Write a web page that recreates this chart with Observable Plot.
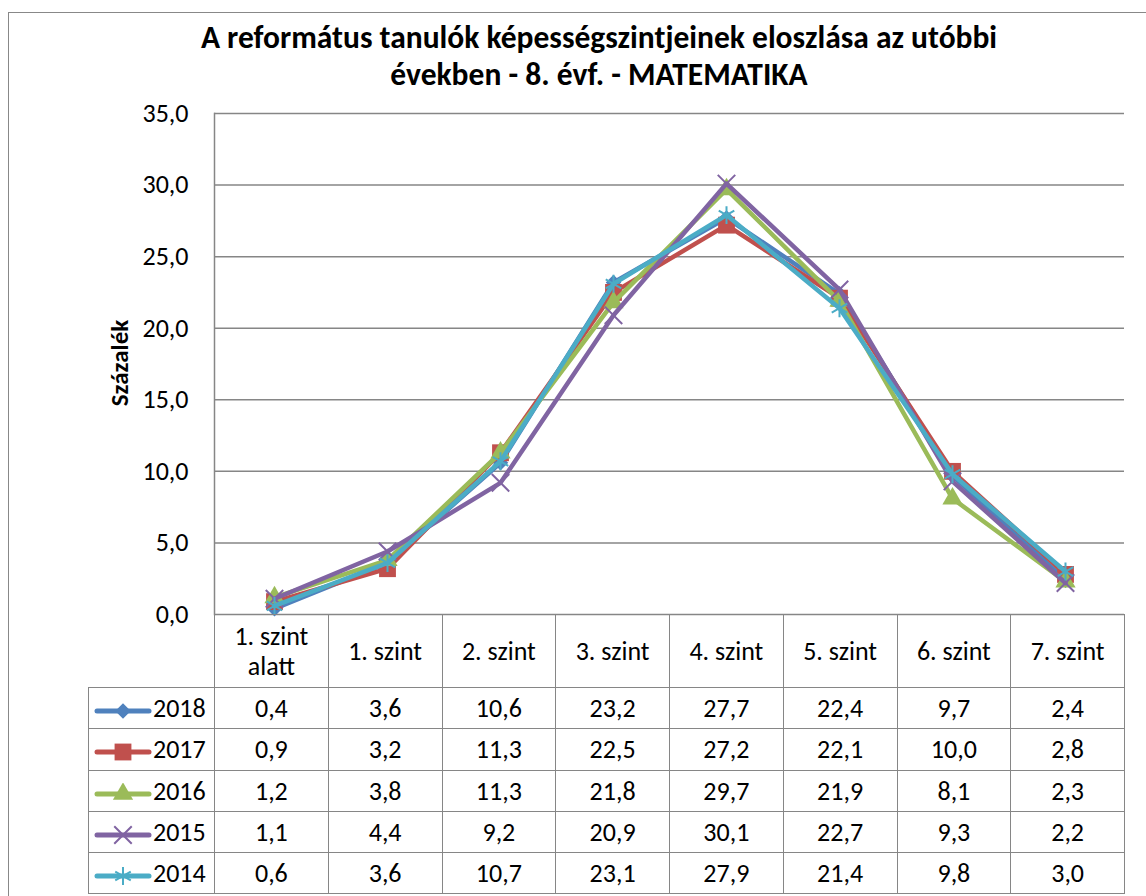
<!DOCTYPE html>
<html><head><meta charset="utf-8">
<script src="https://cdn.jsdelivr.net/npm/d3@7"></script>
<script src="https://cdn.jsdelivr.net/npm/@observablehq/plot@0.6"></script>
<style>
body{margin:0;background:#fff;font-family:Carlito,Calibri,Lato,sans-serif;color:#000;}
#wrap{position:relative;width:1146px;height:896px;overflow:hidden;background:#fff;}
#frame{position:absolute;left:8px;top:12px;width:1200px;height:1000px;border:1.5px solid #888;box-sizing:border-box;}
#title{position:absolute;left:0;width:1198px;top:19px;text-align:center;font-weight:bold;font-size:31.5px;line-height:37px;}
#ylabel{position:absolute;left:119px;top:363px;transform:translate(-50%,-50%) rotate(-90deg);font-weight:bold;font-size:25px;white-space:nowrap;}
#chart{position:absolute;left:0;top:90px;}
#tbl{position:absolute;left:88px;top:614px;border-collapse:collapse;table-layout:fixed;font-size:26px;}
#tbl td{border:1.5px solid #868686;text-align:center;padding:0;vertical-align:middle;}
#tbl tr.h td{height:72px;line-height:30px;}
#tbl tr.d td{height:40.3px;}
#tbl td.corner{border-left:none;border-top:none;}
#tbl td.leg{text-align:left;padding-left:5px;white-space:nowrap;}
#tbl td.leg svg{vertical-align:middle;margin-right:1px;}
</style>
</head><body>
<div id="wrap">
<div id="frame"></div>
<div id="title">A református tanulók képességszintjeinek eloszlása az utóbbi<br>években - 8. évf. - MATEMATIKA</div>
<div id="ylabel">Százalék</div>
<div id="chart"></div>
<table id="tbl"></table>
</div>
<script>
const levels = ["1. szint alatt","1. szint","2. szint","3. szint","4. szint","5. szint","6. szint","7. szint"];
const years = ["2018","2017","2016","2015","2014"];
const v2018 = [0.4,3.6,10.6,23.2,27.7,22.4,9.7,2.4];
const v2017 = [0.9,3.2,11.3,22.5,27.2,22.1,10.0,2.8];
const v2016 = [1.2,3.8,11.3,21.8,29.7,21.9,8.1,2.3];
const v2015 = [1.1,4.4,9.2,20.9,30.1,22.7,9.3,2.2];
const v2014 = [0.6,3.6,10.7,23.1,27.9,21.4,9.8,3.0];
const yTicks = [0,5,10,15,20,25,30,35];
const colors = ["#4F81BD","#C0504D","#9BBB59","#8064A2","#4BACC6"];
const symbols = ["diamond2","square","triangle","times","asterisk"];
const symR = [7,9.5,7.5,8,8.5];
const d3sym = {diamond2:d3.symbolDiamond2,square:d3.symbolSquare,triangle:d3.symbolTriangle,times:d3.symbolTimes,asterisk:d3.symbolAsterisk};

const series = [v2018,v2017,v2016,v2015,v2014];
const fmt = v => v.toFixed(1).replace(".", ",");

const marks = [
  Plot.gridY(yTicks, {stroke:"#868686", strokeOpacity:1, strokeWidth:1.5}),
  Plot.frame({anchor:"left", stroke:"#868686", strokeWidth:1.5}),
  Plot.axisY(yTicks, {tickSize:0, tickPadding:26, tickFormat:fmt, fontSize:26, fill:"#000", label:null})
];
years.forEach((yr, i) => {
  const data = levels.map((lv, j) => ({level: lv, value: series[i][j], year: yr}));
  marks.push(Plot.line(data, {x:"level", y:"value", stroke: colors[i], strokeWidth:4.5, strokeLinejoin:"round"}));
  const stroked = symbols[i] === "times" || symbols[i] === "asterisk";
  marks.push(Plot.dot(data, {x:"level", y:"value", symbol: symbols[i], r: symR[i],
    fill: stroked ? "none" : colors[i], stroke: stroked ? colors[i] : "none", strokeWidth: stroked ? 2 : 0}));
});

const chart = Plot.plot({
  width:1146, height:540,
  marginLeft:214, marginRight:22, marginTop:23, marginBottom:16,
  style:{fontFamily:"Carlito, Calibri, Lato, sans-serif", fontSize:"26px", color:"#000", background:"transparent", overflow:"visible"},
  x:{type:"point", domain:levels, padding:0.5, axis:null},
  y:{domain:[0,35], axis:null},
  marks
});
document.getElementById("chart").appendChild(chart);

// data table
const tbl = document.getElementById("tbl");
let html = "<colgroup><col style='width:126px'>" + levels.map(()=>"<col style='width:113.75px'>").join("") + "</colgroup>";
html += "<tr class='h'><td class='corner'></td>" + levels.map(l => "<td>" + l.replace(" alatt","<br>alatt") + "</td>").join("") + "</tr>";
years.forEach((yr, i) => {
  const sym = d3.symbol(d3sym[symbols[i]], Math.PI*symR[i]*symR[i])();
  const stroked = symbols[i] === "times" || symbols[i] === "asterisk";
  const svg = `<svg width="58" height="22"><line x1="3" y1="11" x2="55" y2="11" stroke="${colors[i]}" stroke-width="5" stroke-linecap="round"/>` +
    `<path d="${sym}" transform="translate(29,11)" fill="${stroked?'none':colors[i]}" stroke="${stroked?colors[i]:'none'}" stroke-width="2"/></svg>`;
  html += "<tr class='d'><td class='leg'>" + svg + yr + "</td>" + series[i].map(v => "<td>" + fmt(v) + "</td>").join("") + "</tr>";
});
tbl.innerHTML = html;
</script>
</body></html>
